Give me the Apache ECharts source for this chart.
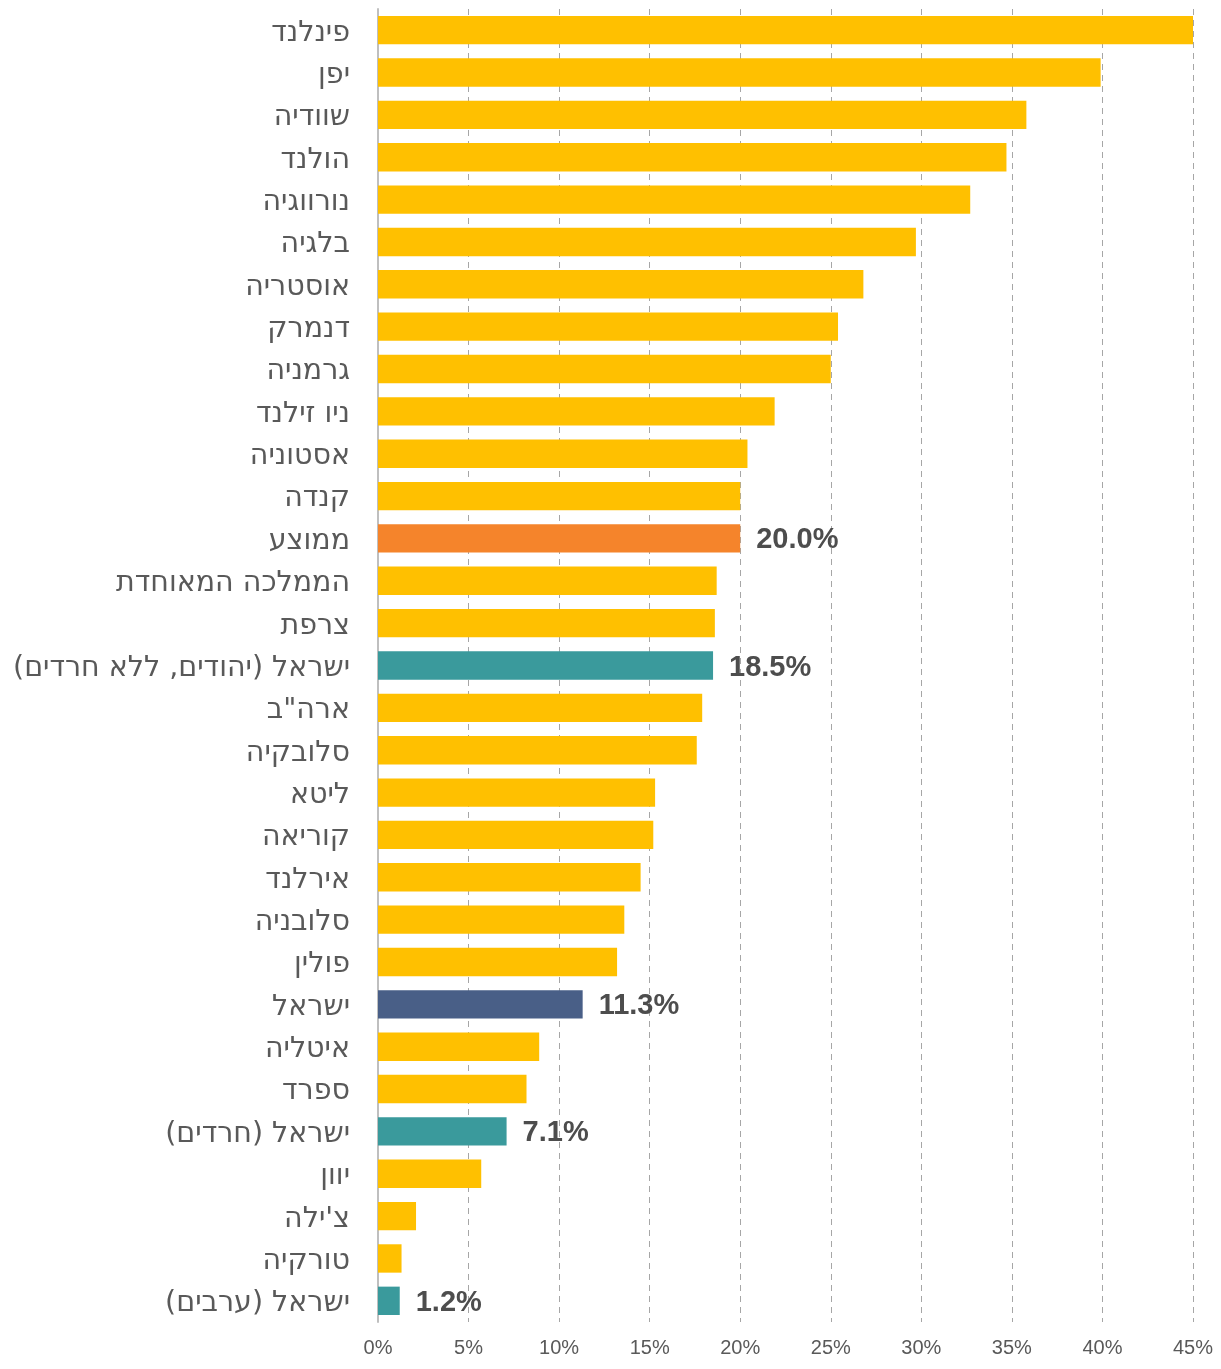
<!DOCTYPE html>
<html>
<head>
<meta charset="utf-8">
<script src="https://cdn.jsdelivr.net/npm/echarts@6/dist/echarts.min.js"></script>
<style>
  html, body { margin: 0; padding: 0; background: #ffffff; }
  #chart { width: 1221px; height: 1369px; }
</style>
</head>
<body>
<div id="chart"></div>
<script>
// Countries, top to bottom
const countries = [
  'פינלנד', 'יפן', 'שוודיה', 'הולנד', 'נורווגיה', 'בלגיה', 'אוסטריה', 'דנמרק',
  'גרמניה', 'ניו זילנד', 'אסטוניה', 'קנדה', 'ממוצע', 'הממלכה המאוחדת', 'צרפת',
  'ישראל (יהודים, ללא חרדים)', 'ארה"ב', 'סלובקיה', 'ליטא', 'קוריאה', 'אירלנד',
  'סלובניה', 'פולין', 'ישראל', 'איטליה', 'ספרד', 'ישראל (חרדים)', 'יוון',
  "צ'ילה", 'טורקיה', 'ישראל (ערבים)'
];

// Share, in percent
const shares = [
  45.0, 39.9, 35.8, 34.7, 32.7, 29.7, 26.8, 25.4,
  25.0, 21.9, 20.4, 20.0, 20.0, 18.7, 18.6,
  18.5, 17.9, 17.6, 15.3, 15.2, 14.5,
  13.6, 13.2, 11.3, 8.9, 8.2, 7.1, 5.7,
  2.1, 1.3, 1.2
];

// Rows that get their own colour and a value label
const highlighted = {
  'ממוצע': '#F5842B',
  'ישראל (יהודים, ללא חרדים)': '#3A9A9C',
  'ישראל': '#495F87',
  'ישראל (חרדים)': '#3A9A9C',
  'ישראל (ערבים)': '#3A9A9C'
};
const baseColor = '#FFC000';

const tickValues = [0, 5, 10, 15, 20, 25, 30, 35, 40, 45];

const chart = echarts.init(document.getElementById('chart'), null, { renderer: 'canvas' });

const data = countries.map((name, i) => {
  const hl = highlighted[name];
  return {
    value: shares[i],
    itemStyle: { color: hl || baseColor },
    label: hl ? {
      show: true,
      position: 'right',
      distance: 16,
      offset: [0, 2],
      formatter: (p) => p.value.toFixed(1) + '%',
      fontFamily: 'Liberation Sans, Arial, sans-serif',
      fontWeight: 'bold',
      fontSize: 29,
      color: '#4D4D4D'
    } : { show: false }
  };
});

chart.setOption({
  animation: false,
  backgroundColor: '#ffffff',
  grid: { left: 378, right: 28, top: 9, bottom: 47, containLabel: false },
  xAxis: {
    type: 'value',
    min: tickValues[0],
    max: tickValues[tickValues.length - 1],
    interval: 5,
    axisLine: { show: false },
    axisTick: { show: false },
    axisLabel: {
      formatter: (v) => v + '%',
      fontFamily: 'Liberation Sans, Arial, sans-serif',
      fontSize: 20,
      color: '#595959',
      margin: 16
    },
    splitLine: {
      show: true,
      lineStyle: { color: '#A6A6A6', type: [6, 5], width: 1 }
    }
  },
  yAxis: {
    type: 'category',
    data: countries,
    inverse: true,
    axisLine: { show: true, lineStyle: { color: '#BFBFBF', width: 2 } },
    axisTick: { show: false },
    axisLabel: {
      margin: 28,
      formatter: (v) => '{c|' + v + '}',
      rich: {
        c: {
          fontFamily: 'DejaVu Sans, Open Sans, sans-serif',
          fontSize: 28.5,
          color: '#595959',
          padding: [6, 0, 0, 0]
        }
      }
    }
  },
  series: [{
    type: 'bar',
    data: data,
    barCategoryGap: '33%',
    z: 3
  }]
});
</script>
</body>
</html>
